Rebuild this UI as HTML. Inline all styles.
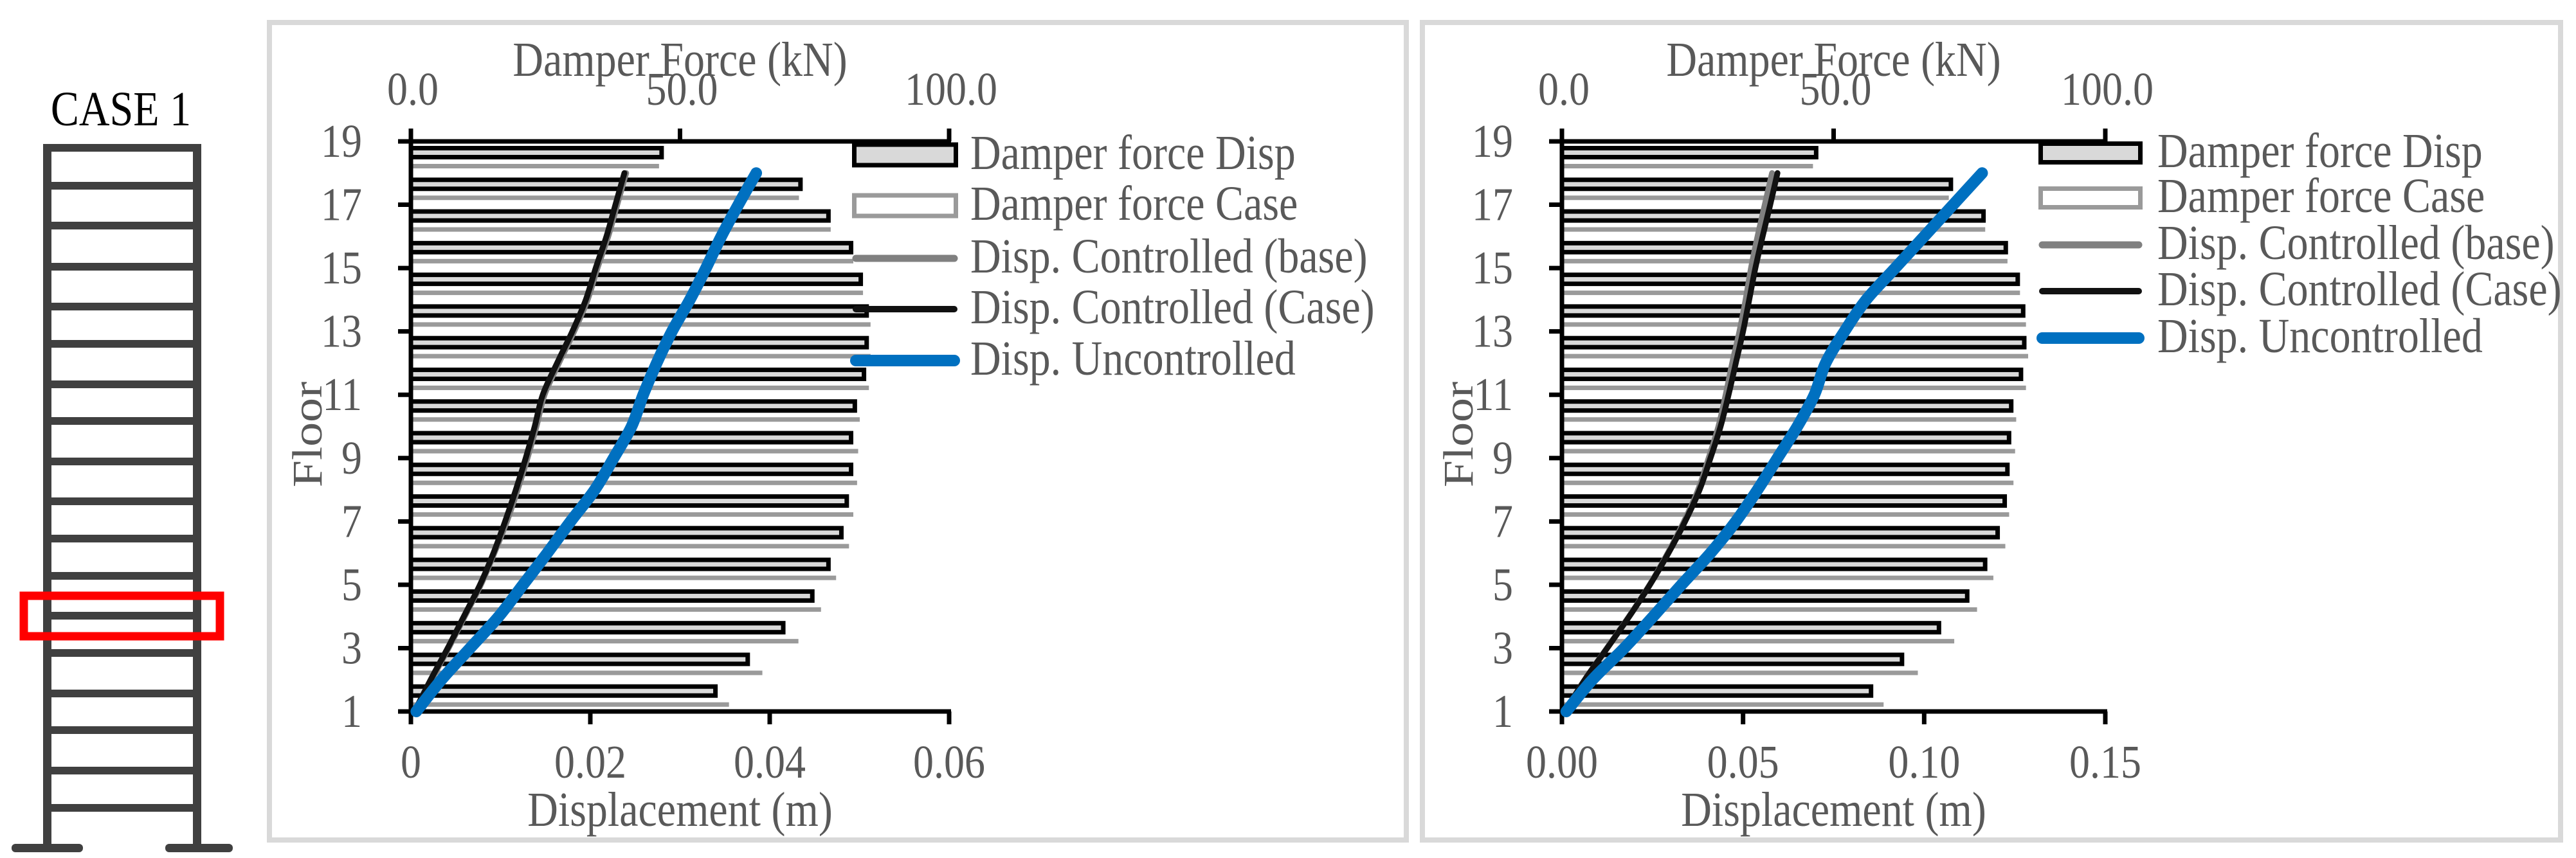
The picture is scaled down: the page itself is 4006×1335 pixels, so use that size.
<!DOCTYPE html>
<html><head><meta charset="utf-8"><style>
html,body{margin:0;padding:0;background:#fff;}
svg{display:block;}
text{font-family:"Liberation Serif","DejaVu Serif",serif;fill:#595959;}
</style></head><body>
<svg id="root" width="4006" height="1335" viewBox="0 0 4006 1335" xmlns="http://www.w3.org/2000/svg">
<g>
<text x="188" y="195" font-size="66" text-anchor="middle" style="fill:#000">CASE 1</text>
<g id="bld" fill="#404040"></g>
<rect x="37" y="927" width="305" height="63" fill="none" stroke="#ff0000" stroke-width="13"/>
</g>
<rect x="419" y="35" width="1768" height="1272" fill="none" stroke="#d9d9d9" stroke-width="8"/>
<rect x="2212" y="35" width="1770" height="1272" fill="none" stroke="#d9d9d9" stroke-width="8"/>
<g id="chartL"></g>
<g id="chartR"></g>
</svg>
<script>
// Left chart data (bands floor1-2 ... floor18-19), force in kN
const leftForceDisp = [57.0,63.0,69.6,75.0,78.0,80.4,81.4,82.2,82.2,82.9,84.6,85.1,85.1,84.0,82.2,78.0,72.8,47.0];
const leftForceCase = [59.1,65.3,72.0,76.2,79.0,81.4,82.2,82.9,83.1,83.4,85.1,85.4,85.4,84.0,82.2,78.0,72.1,46.1];
// displacement (m) at floors 1..18
const leftDispUnc  = [0.0006,0.0034,0.0066,0.0098,0.0125,0.0152,0.0178,0.0205,0.0226,0.0246,0.0259,0.0274,0.0291,0.0311,0.0329,0.0346,0.0365,0.0385];
const leftDispCase = [0.0004,0.0022,0.0041,0.0059,0.0077,0.0092,0.0105,0.0117,0.0128,0.0138,0.0147,0.0163,0.0180,0.0195,0.0206,0.0218,0.0228,0.0238];
const leftDispBase = [0.0005,0.0023,0.0042,0.0060,0.0078,0.0093,0.0107,0.0119,0.0130,0.0140,0.0149,0.0165,0.0182,0.0197,0.0208,0.0220,0.0230,0.0240];
const leftDispTicks = ["0","0.02","0.04","0.06"];
// Right chart data
const rightForceDisp = [57.3,63.0,69.8,75.0,78.3,80.6,81.9,82.4,82.7,83.1,84.9,85.5,85.3,84.3,82.1,78.0,72.0,47.2];
const rightForceCase = [59.2,65.5,72.2,76.4,79.4,81.6,82.3,83.1,83.4,83.6,85.4,85.8,85.4,84.3,82.0,77.9,71.2,46.2];
const rightDispUnc  = [0.0012,0.0084,0.0172,0.0252,0.0330,0.0410,0.0480,0.0540,0.0595,0.0650,0.0697,0.0728,0.0780,0.0840,0.0920,0.1000,0.1080,0.1160];
const rightDispCase = [0.0008,0.0063,0.0125,0.0186,0.0243,0.0294,0.0340,0.0380,0.0410,0.0438,0.0460,0.0480,0.0500,0.0517,0.0534,0.0554,0.0575,0.0595];
const rightDispBase = [0.0008,0.0063,0.0124,0.0185,0.0242,0.0292,0.0337,0.0376,0.0405,0.0432,0.0452,0.0470,0.0490,0.0507,0.0522,0.0540,0.0560,0.0580];
const rightDispTicks = ["0.00","0.05","0.10","0.15"];
const forceTicks = ["0.0","50.0","100.0"];
const floorTicks = [1,3,5,7,9,11,13,15,17,19];
const legendLabels = ["Damper force Disp","Damper force Case","Disp. Controlled (base)","Disp. Controlled (Case)","Disp. Uncontrolled"];

const NS="http://www.w3.org/2000/svg";
function mk(parent,tag,attrs,txt){const e=document.createElementNS(NS,tag);for(const k in attrs)e.setAttribute(k,attrs[k]);if(txt!==undefined)e.textContent=txt;parent.appendChild(e);return e;}

// building
const bld=document.getElementById('bld');
const beamYs=[224,283,345,409,471,529,592,649,712,774,832,890,952,1010,1073,1130,1193,1251];
let c1=mk(bld,'rect',{x:67,y:224,width:13,height:1096});

let c2=mk(bld,'rect',{x:300,y:224,width:13,height:1096});

beamYs.forEach(y=>{const b=mk(bld,'rect',{x:67,y:y,width:246,height:12});
});
let f1=mk(bld,'rect',{x:18,y:1313,width:111,height:13,rx:6});

let f2=mk(bld,'rect',{x:257,y:1313,width:105,height:13,rx:6});


function smoothPath(pts){
  let d=`M${pts[0][0]},${pts[0][1]}`;
  for(let i=0;i<pts.length-1;i++){
    const p0=pts[i-1]||pts[i],p1=pts[i],p2=pts[i+1],p3=pts[i+2]||p2;
    const c1x=p1[0]+(p2[0]-p0[0])/6,c1y=p1[1]+(p2[1]-p0[1])/6;
    const c2x=p2[0]-(p3[0]-p1[0])/6,c2y=p2[1]-(p3[1]-p1[1])/6;
    d+=` C${c1x},${c1y} ${c2x},${c2y} ${p2[0]},${p2[1]}`;
  }
  return d;
}

function drawChart(g,cfg){
  const x0=cfg.x0,x1=cfg.x1,yTop=220,yBot=1107;
  const xD=v=>x0+(v/cfg.dmax)*(x1-x0);
  const xF=v=>x0+(v/100)*(x1-x0);
  const yF=f=>yBot-(f-1)*(yBot-yTop)/18;
  cfg.fd.forEach((v,i)=>{
    const top=yF(i+2);
    const r=mk(g,'rect',{x:x0,y:top+10.5,width:Math.max(0,xF(v)-3.5-x0),height:14,fill:'#d9d9d9',stroke:'#000','stroke-width':7});
    
    
  });
  cfg.fc.forEach((v,i)=>{
    const top=yF(i+2);
    const r=mk(g,'rect',{x:x0,y:top+35,width:xF(v)-x0,height:7,fill:'#9a9a9a'});
    
    
  });
  const ax=mk(g,'line',{x1:x0,y1:yTop-20,x2:x0,y2:yBot+20,stroke:'#000','stroke-width':7});
  
  const at=mk(g,'line',{x1:x0-20,y1:yTop,x2:x1+3,y2:yTop,stroke:'#000','stroke-width':7});
  
  const ab=mk(g,'line',{x1:x0-20,y1:yBot,x2:x1+3,y2:yBot,stroke:'#000','stroke-width':7});
  
  floorTicks.forEach(f=>{
    const t=mk(g,'line',{x1:x0-20,y1:yF(f),x2:x0,y2:yF(f),stroke:'#000','stroke-width':7});
    
    const l=mk(g,'text',{x:x0-76,y:yF(f)+24,'font-size':64,'text-anchor':'end'},String(f));
    
  });
  cfg.dt.forEach((s,i)=>{
    const x=x0+i*(x1-x0)/(cfg.dt.length-1);
    const t=mk(g,'line',{x1:x,y1:yBot,x2:x,y2:yBot+20,stroke:'#000','stroke-width':7});
    
    const l=mk(g,'text',{x:x,y:1210,'font-size':64,'text-anchor':'middle'},s);
    
  });
  forceTicks.forEach((s,i)=>{
    const x=xF(i*50);
    const t=mk(g,'line',{x1:x,y1:yTop-20,x2:x,y2:yTop,stroke:'#000','stroke-width':7});
    
    const l=mk(g,'text',{x:x+3,y:163,'font-size':64,'text-anchor':'middle'},s);
    
  });
  const tt=mk(g,'text',{x:(x0+x1)/2,y:118,'font-size':66,'text-anchor':'middle'},'Damper Force (kN)');
  
  const bt=mk(g,'text',{x:(x0+x1)/2,y:1285,'font-size':66,'text-anchor':'middle'},'Displacement (m)');
  
  const yt=mk(g,'text',{x:0,y:0,'font-size':66,'text-anchor':'middle',transform:`translate(${x0-139},676) rotate(-90) scale(1.15,1)`},'Floor');
  
  const series=[[cfg.base,'#808080',9,'line-disp-controlled-base'],[cfg.cas,'#111111',9,'line-disp-controlled-case'],[cfg.unc,'#0070c0',18,'line-disp-uncontrolled']];
  series.forEach(s=>{
    const pts=s[0].map((v,i)=>[xD(v),yF(i+1)]);
    const p=mk(g,'path',{d:smoothPath(pts),fill:'none',stroke:s[1],'stroke-width':s[2],'stroke-linecap':'round','stroke-linejoin':'round'});
    
    
  });
  const L=cfg.leg;
  const lg=mk(g,'g',{});
  
  const s1=mk(lg,'rect',{x:L.sx+3.5,y:L.rows[0]-L.h/2+3.5,width:L.sw-7,height:L.h-7,fill:'#d9d9d9',stroke:'#000','stroke-width':7});
  
  const s2=mk(lg,'rect',{x:L.sx+3.5,y:L.rows[1]-L.h/2+3.5,width:L.sw-7,height:L.h-7,fill:'#fff',stroke:'#9a9a9a','stroke-width':7});
  
  [['#808080',11],['#111111',10],['#0070c0',18]].forEach((c,i)=>{
    const ln=mk(lg,'line',{x1:L.sx+6,y1:L.rows[i+2],x2:L.sx+L.sw-6,y2:L.rows[i+2],stroke:c[0],'stroke-width':c[1],'stroke-linecap':'round'});
    
  });
  legendLabels.forEach((s,i)=>{
    const t=mk(lg,'text',{x:L.tx,y:L.rows[i]+22,'font-size':66},s);
    
  });
}

drawChart(document.getElementById('chartL'),{x0:639,x1:1476,dmax:0.06,fd:leftForceDisp,fc:leftForceCase,unc:leftDispUnc,cas:leftDispCase,base:leftDispBase,dt:leftDispTicks,
  leg:{sx:1325,sw:165,h:39,tx:1509,rows:[241,320,402,481,561]}});
drawChart(document.getElementById('chartR'),{x0:2429,x1:3274,dmax:0.15,fd:rightForceDisp,fc:rightForceCase,unc:rightDispUnc,cas:rightDispCase,base:rightDispBase,dt:rightDispTicks,
  leg:{sx:3170,sw:162,h:36,tx:3355,rows:[238,308,381,453,526]}});

// vertically stretch text to match the tall condensed look
document.querySelectorAll('text').forEach(t=>{
  if(t.getAttribute('transform'))return;
  const x=t.getAttribute('x'),y=t.getAttribute('y');
  t.setAttribute('x',0);t.setAttribute('y',0);
  t.setAttribute('transform',`translate(${x},${y}) scale(1,1.15)`);
});
</script>
</body></html>
